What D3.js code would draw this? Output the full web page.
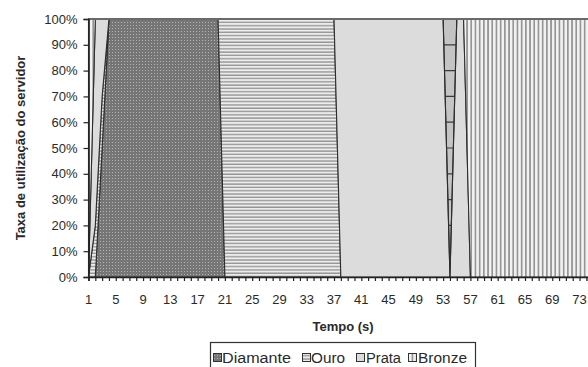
<!DOCTYPE html>
<html>
<head>
<meta charset="utf-8">
<script src="https://cdn.jsdelivr.net/npm/d3@7"></script>
<style>
  html, body { margin: 0; padding: 0; background: #ffffff; }
  svg { display: block; }
  text { font-family: "Liberation Sans", Arial, sans-serif; fill: #2a2a2a; }
</style>
</head>
<body>
<script>
// ---- data ----
const times = [
  1,2,3,4,5,6,7,8,9,10, 11,12,13,14,15,16,17,18,19,20,
  21,22,23,24,25,26,27,28,29,30, 31,32,33,34,35,36,37,38,39,40,
  41,42,43,44,45,46,47,48,49,50, 51,52,53,54,55,56,57,58,59,60,
  61,62,63,64,65,66,67,68,69,70, 71,72,73,74,75,76,77,78,79,80
];
const seriesNames = ["Diamante", "Ouro", "Prata", "Bronze"];
const diamante = [
  0,0,50,100,100,100,100,100,100,100, 100,100,100,100,100,100,100,100,100,100,
  0,0,0,0,0,0,0,0,0,0, 0,0,0,0,0,0,0,0,0,0,
  0,0,0,0,0,0,0,0,0,0, 0,0,0,0,0,0,0,0,0,0,
  0,0,0,0,0,0,0,0,0,0, 0,0,0,0,0,0,0,0,0,0
];
const ouro = [
  0,20,20,0,0,0,0,0,0,0, 0,0,0,0,0,0,0,0,0,0,
  100,100,100,100,100,100,100,100,100,100, 100,100,100,100,100,100,100,0,0,0,
  0,0,0,0,0,0,0,0,0,0, 0,0,0,0,0,0,0,0,0,0,
  0,0,0,0,0,0,0,0,0,0, 0,0,0,0,0,0,0,0,0,0
];
const prata = [
  0,80,30,0,0,0,0,0,0,0, 0,0,0,0,0,0,0,0,0,0,
  0,0,0,0,0,0,0,0,0,0, 0,0,0,0,0,0,0,100,100,100,
  100,100,100,100,100,100,100,100,100,100, 100,100,100,0,100,100,0,0,0,0,
  0,0,0,0,0,0,0,0,0,0, 0,0,0,0,0,0,0,0,0,0
];
const bronze = [
  100,0,0,0,0,0,0,0,0,0, 0,0,0,0,0,0,0,0,0,0,
  0,0,0,0,0,0,0,0,0,0, 0,0,0,0,0,0,0,0,0,0,
  0,0,0,0,0,0,0,0,0,0, 0,0,0,0,0,0,100,100,100,100,
  100,100,100,100,100,100,100,100,100,100, 100,100,100,100,100,100,100,100,100,100
];
const xTickLabels = [1,5,9,13,17,21,25,29,33,37,41,45,49,53,57,61,65,69,73,77];
const yTicks = [0,0.1,0.2,0.3,0.4,0.5,0.6,0.7,0.8,0.9,1];
const xTitle = "Tempo (s)";
const yTitle = "Taxa de utilização do servidor";

// ---- layout ----
const W = 588, H = 367;
const plotLeft = 88.5, plotTop = 19, plotBottom = 277;
const step = 6.82;

const svg = d3.select("body").append("svg").attr("width", W).attr("height", H);
const defs = svg.append("defs");

// patterns
const pD = defs.append("pattern").attr("id", "pDiamante").attr("patternUnits", "userSpaceOnUse")
  .attr("width", 3).attr("height", 3);
pD.append("rect").attr("width", 3).attr("height", 3).attr("fill", "#767676");
pD.append("rect").attr("x", 1).attr("y", 1).attr("width", 1).attr("height", 1).attr("fill", "#b4b4b4");

const pO = defs.append("pattern").attr("id", "pOuro").attr("patternUnits", "userSpaceOnUse")
  .attr("width", 4).attr("height", 3.3);
pO.append("rect").attr("width", 4).attr("height", 3.3).attr("fill", "#ececec");
pO.append("rect").attr("y", 2).attr("width", 4).attr("height", 1.2).attr("fill", "#8a8a8a");

const pB = defs.append("pattern").attr("id", "pBronze").attr("patternUnits", "userSpaceOnUse")
  .attr("width", 4.2).attr("height", 4);
pB.append("rect").attr("width", 4.2).attr("height", 4).attr("fill", "#f2f2f2");
pB.append("rect").attr("x", 0).attr("width", 1.7).attr("height", 4).attr("fill", "#959595");

const fills = {
  Diamante: "url(#pDiamante)",
  Ouro: "url(#pOuro)",
  Prata: "#dcdcdc",
  Bronze: "url(#pBronze)"
};

// scales
const x = d3.scaleLinear().domain([1, 1 + (W - plotLeft) / step]).range([plotLeft, W]);
const y = d3.scaleLinear().domain([0, 1]).range([plotBottom, plotTop]);
const xEnd = x(times[times.length - 1]);

// plot background + gridlines (visible only where areas leave gaps)
svg.append("rect").attr("x", plotLeft).attr("y", plotTop)
  .attr("width", xEnd - plotLeft).attr("height", plotBottom - plotTop)
  .attr("fill", "#c4c4c4");
svg.append("g").selectAll("line").data(yTicks).join("line")
  .attr("x1", plotLeft).attr("x2", xEnd)
  .attr("y1", d => y(d)).attr("y2", d => y(d))
  .attr("stroke", "#3a3a3a").attr("stroke-width", 1.2);

// stacked data
const rows = times.map((t, i) => ({
  t, Diamante: diamante[i], Ouro: ouro[i], Prata: prata[i], Bronze: bronze[i]
}));
const stacked = d3.stack().keys(seriesNames).offset(d3.stackOffsetExpand)(rows);

const area = d3.area()
  .x(d => x(d.data.t))
  .y0(d => y(d[0]))
  .y1(d => y(d[1]));

svg.append("g").selectAll("path").data(stacked).join("path")
  .attr("d", area)
  .attr("fill", d => fills[d.key])
  .attr("stroke", "#2e2e2e")
  .attr("stroke-width", 1.1)
  .attr("stroke-linejoin", "miter");

// top border of plot
svg.append("line").attr("x1", plotLeft).attr("x2", W).attr("y1", plotTop).attr("y2", plotTop)
  .attr("stroke", "#6a6a6a").attr("stroke-width", 2);

// x axis
const xAxis = d3.axisBottom(x).tickValues(times).tickSize(4).tickFormat("");
const gx = svg.append("g").attr("transform", `translate(0,${plotBottom})`).call(xAxis);
gx.select(".domain").attr("stroke", "#222").attr("stroke-width", 1.6);
gx.selectAll(".tick line").attr("stroke", "#222").attr("stroke-width", 1.2);
svg.append("g").selectAll("text").data(xTickLabels).join("text")
  .attr("x", d => x(d)).attr("y", 304)
  .attr("text-anchor", "middle").attr("font-size", 13)
  .text(d => d);

// y axis
const yAxis = d3.axisLeft(y).tickValues(yTicks).tickSize(5).tickFormat(d3.format(".0%"));
const gy = svg.append("g").attr("transform", `translate(${plotLeft},0)`).call(yAxis);
gy.select(".domain").attr("stroke", "#222").attr("stroke-width", 1.4);
gy.selectAll(".tick line").attr("stroke", "#222").attr("stroke-width", 1.2);
gy.selectAll(".tick text").attr("x", -11).attr("font-size", 13)
  .attr("font-family", "Liberation Sans, Arial, sans-serif").attr("fill", "#2a2a2a");

// titles
svg.append("text").attr("x", 343).attr("y", 331).attr("text-anchor", "middle")
  .attr("font-size", 13).attr("font-weight", "bold").text(xTitle);
svg.append("text").attr("transform", "translate(25,148) rotate(-90)")
  .attr("text-anchor", "middle").attr("font-size", 13).attr("font-weight", "bold").text(yTitle);

// legend
const lg = svg.append("g");
lg.append("rect").attr("x", 210.5).attr("y", 342.5).attr("width", 265).attr("height", 30)
  .attr("fill", "#fff").attr("stroke", "#333").attr("stroke-width", 1.2);
const legendItems = [
  { key: "Diamante", sx: 213, tx: 222, tw: 69 },
  { key: "Ouro", sx: 302, tx: 311, tw: 34 },
  { key: "Prata", sx: 356, tx: 366, tw: 35 },
  { key: "Bronze", sx: 408, tx: 418, tw: 49 }
];
legendItems.forEach(it => {
  lg.append("rect").attr("x", it.sx + 0.5).attr("y", 353.5).attr("width", 8).attr("height", 8)
    .attr("fill", fills[it.key]).attr("stroke", "#333").attr("stroke-width", 1);
  lg.append("text").attr("x", it.tx).attr("y", 363).attr("font-size", 14)
    .attr("textLength", it.tw).attr("lengthAdjust", "spacingAndGlyphs").text(it.key);
});
</script>
</body>
</html>
